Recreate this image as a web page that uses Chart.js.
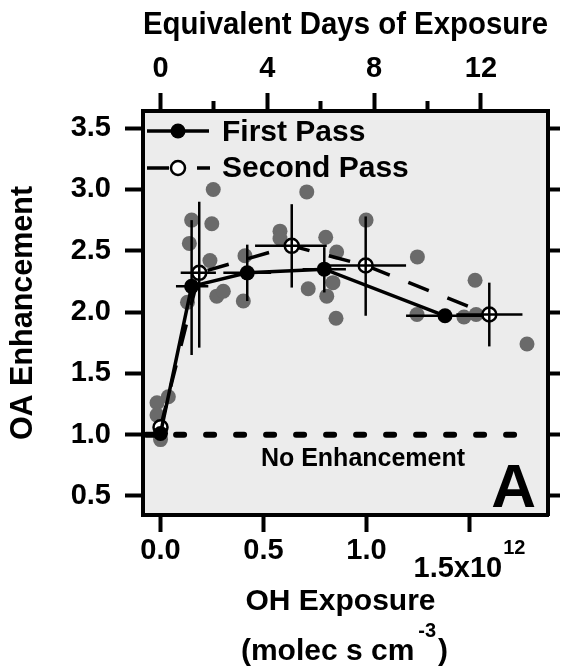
<!DOCTYPE html>
<html>
<head>
<meta charset="utf-8">
<script src="https://cdn.jsdelivr.net/npm/chart.js@4"></script>
<style>
  html, body { margin: 0; padding: 0; background: #fff; }
  #wrap { width: 566px; height: 669px; }
  canvas { display: block; }
</style>
</head>
<body>
<div id="wrap"><canvas id="c" width="566" height="669"></canvas></div>
<script>
// OH exposure values are in units of 1e12 molec s cm^-3.
// One equivalent day = 1.5e6 molec cm^-3 OH for 86400 s = 0.1296e12.
const DAY = 0.1296;

// Individual ambient measurements (gray dots)
const ambientX = [0.256, 0.710, 0.151, 0.249, 0.998, 0.140, 0.580, 0.580, 0.802, 0.855,
                  1.247, 0.240, 0.410, 1.527, 0.131, 0.273, 0.305, 0.402, 0.717, 0.807,
                  0.837, 0.852, 1.245, 1.473, 1.532, 1.779, 0.038, -0.017, -0.017, 0.000];
const ambientY = [3.00, 2.98, 2.75, 2.72, 2.75, 2.56, 2.66, 2.60, 2.61, 2.49,
                  2.45, 2.42, 2.46, 2.26, 2.08, 2.13, 2.17, 2.09, 2.19, 2.13,
                  2.24, 1.95, 1.98, 1.96, 1.98, 1.74, 1.31, 1.26, 1.16, 0.96];

// First pass binned averages with ranges
const firstX   = [0.000, 0.151, 0.421, 0.795, 1.381];
const firstY   = [1.01, 2.21, 2.32, 2.35, 1.97];
const firstYLo = [null, 1.65, 2.09, 2.16, null];
const firstYHi = [null, 2.75, 2.55, 2.53, null];
const firstXLo = [null, 0.075, 0.305, 0.690, 1.192];
const firstXHi = [null, 0.232, 0.537, 0.900, 1.570];

// Second pass binned averages with ranges
const secondX   = [0.000, 0.188, 0.637, 0.996, 1.596];
const secondY   = [1.06, 2.32, 2.54, 2.38, 1.98];
const secondYLo = [null, 1.71, 2.20, 1.97, 1.72];
const secondYHi = [null, 2.90, 2.88, 2.78, 2.24];
const secondXLo = [null, 0.098, 0.459, 0.807, 1.436];
const secondXHi = [null, 0.269, 0.807, 1.192, 1.757];

// Reference line
const noEnhX = [-0.07, 1.75];
const noEnhY = 1.0;

// Ticks
const bottomTicks = [0, 0.5, 1.0, 1.5];
const dayTicks = [0, 4, 8, 12];
const dayMinorTicks = [2, 6, 10];
const yTicks = [0.5, 1.0, 1.5, 2.0, 2.5, 3.0, 3.5];

const X_MIN = -0.085, X_MAX = 1.881;
const Y_MIN = 0.345, Y_MAX = 3.64;

const FAM = "'Liberation Sans', Arial, sans-serif";
const font = (size) => ({ family: FAM, size: size, weight: 'bold' });

function setTicks(values) {
  return (scale) => { scale.ticks = values.map(v => ({ value: v })); };
}
function fixSize(size) {
  return (scale) => { if (scale.isHorizontal()) scale.height = size; else scale.width = size; };
}
const border = { display: true, color: '#000', width: 4 };
function grid(len) {
  return { display: true, drawOnChartArea: false, drawTicks: true, tickColor: '#000', tickWidth: 4, tickLength: len };
}

const plotBackground = {
  id: 'plotBackground',
  beforeDraw(chart) {
    const { ctx, chartArea: a } = chart;
    ctx.save();
    ctx.fillStyle = '#ececec';
    ctx.fillRect(a.left, a.top, a.right - a.left, a.bottom - a.top);
    ctx.restore();
  }
};

function drawBars(ctx, xs, ys, xlo, xhi, ylo, yhi, sx, sy) {
  for (let i = 0; i < xs.length; i++) {
    const px = sx.getPixelForValue(xs[i]);
    const py = sy.getPixelForValue(ys[i]);
    if (ylo[i] !== null) {
      ctx.beginPath();
      ctx.moveTo(px, sy.getPixelForValue(ylo[i]));
      ctx.lineTo(px, sy.getPixelForValue(yhi[i]));
      ctx.stroke();
    }
    if (xlo[i] !== null) {
      ctx.beginPath();
      ctx.moveTo(sx.getPixelForValue(xlo[i]), py);
      ctx.lineTo(sx.getPixelForValue(xhi[i]), py);
      ctx.stroke();
    }
  }
}

const errorBars = {
  id: 'errorBars',
  afterDatasetsDraw(chart) {
    const { ctx } = chart;
    const sx = chart.scales.x, sy = chart.scales.y;
    ctx.save();
    ctx.strokeStyle = '#000';
    ctx.lineWidth = 2.5;
    drawBars(ctx, firstX, firstY, firstXLo, firstXHi, firstYLo, firstYHi, sx, sy);
    drawBars(ctx, secondX, secondY, secondXLo, secondXHi, secondYLo, secondYHi, sx, sy);
    ctx.restore();
  }
};

const annotations = {
  id: 'annotations',
  afterDraw(chart) {
    const { ctx, chartArea: a } = chart;
    const sx = chart.scales.x;
    ctx.save();
    ctx.fillStyle = '#000';
    ctx.strokeStyle = '#000';

    // legend
    ctx.lineWidth = 3.5;
    ctx.beginPath(); ctx.moveTo(a.left + 4, a.top + 20); ctx.lineTo(a.left + 66, a.top + 20); ctx.stroke();
    ctx.beginPath(); ctx.arc(a.left + 35, a.top + 20, 7.5, 0, Math.PI * 2); ctx.fill();
    ctx.beginPath(); ctx.moveTo(a.left + 4, a.top + 57); ctx.lineTo(a.left + 26, a.top + 57); ctx.stroke();
    ctx.beginPath(); ctx.moveTo(a.left + 54, a.top + 57); ctx.lineTo(a.left + 67, a.top + 57); ctx.stroke();
    ctx.beginPath(); ctx.arc(a.left + 35, a.top + 57, 7, 0, Math.PI * 2);
    ctx.fillStyle = '#fff'; ctx.fill();
    ctx.lineWidth = 2.5; ctx.stroke();
    ctx.fillStyle = '#000';
    ctx.font = `bold 30px ${FAM}`;
    ctx.textAlign = 'left';
    ctx.textBaseline = 'alphabetic';
    ctx.fillText('First Pass', a.left + 79, a.top + 30);
    ctx.fillText('Second Pass', a.left + 79, a.top + 66);

    // reference line label and panel letter
    ctx.font = `bold 25px ${FAM}`;
    ctx.textAlign = 'center';
    ctx.fillText('No Enhancement', 363, a.bottom - 49);
    ctx.font = `bold 62px ${FAM}`;
    ctx.textAlign = 'right';
    ctx.fillText('A', a.right - 12, a.bottom - 8);

    // last bottom tick label with exponent
    const p15 = sx.getPixelForValue(1.5);
    ctx.font = `bold 29px ${FAM}`;
    const wMain = ctx.measureText('1.5x10').width;
    ctx.font = `bold 20px ${FAM}`;
    const wExp = ctx.measureText('12').width;
    const x0 = p15 - (wMain + wExp + 1) / 2;
    ctx.textAlign = 'left';
    ctx.font = `bold 29px ${FAM}`;
    ctx.fillText('1.5x10', x0, a.bottom + 62);
    ctx.font = `bold 20px ${FAM}`;
    ctx.fillText('12', x0 + wMain + 1, a.bottom + 39);

    // bottom axis title
    const cx = (a.left + a.right) / 2;
    ctx.font = `bold 30px ${FAM}`;
    ctx.textAlign = 'center';
    ctx.fillText('OH Exposure', cx - 5, 610);
    ctx.textAlign = 'left';
    const w1 = ctx.measureText('(molec s cm').width;
    const w3 = ctx.measureText(')').width;
    ctx.font = `bold 20px ${FAM}`;
    const w2 = ctx.measureText('-3').width;
    const total = w1 + 4 + w2 + 2 + w3;
    let x = cx - 1 - total / 2;
    ctx.font = `bold 30px ${FAM}`;
    ctx.fillText('(molec s cm', x, 660);
    x += w1 + 4;
    ctx.font = `bold 20px ${FAM}`;
    ctx.fillText('-3', x, 637);
    x += w2 + 2;
    ctx.font = `bold 30px ${FAM}`;
    ctx.fillText(')', x, 660);
    ctx.restore();
  }
};

new Chart(document.getElementById('c'), {
  type: 'scatter',
  data: {
    datasets: [
      {
        label: 'Ambient',
        data: ambientX.map((x, i) => ({ x: x, y: ambientY[i] })),
        pointRadius: 7.5,
        pointBackgroundColor: '#6a6a6a',
        pointBorderWidth: 0,
        order: 10
      },
      {
        label: 'No Enhancement',
        data: noEnhX.map(x => ({ x: x, y: noEnhY })),
        showLine: true,
        borderColor: '#000',
        borderWidth: 6,
        borderDash: [8, 22],
        borderCapStyle: 'round',
        pointRadius: 0,
        order: 5
      },
      {
        label: 'Second Pass',
        data: secondX.map((x, i) => ({ x: x, y: secondY[i] })),
        showLine: true,
        borderColor: '#000',
        borderWidth: 3.5,
        borderDash: [22, 20],
        pointRadius: 7,
        pointBackgroundColor: '#fff',
        pointBorderColor: '#000',
        pointBorderWidth: 2.5,
        order: 2
      },
      {
        label: 'First Pass',
        data: firstX.map((x, i) => ({ x: x, y: firstY[i] })),
        showLine: true,
        borderColor: '#000',
        borderWidth: 3.5,
        pointRadius: 7.5,
        pointBackgroundColor: '#000',
        pointBorderColor: '#000',
        pointBorderWidth: 0,
        order: 1
      }
    ]
  },
  options: {
    responsive: false,
    devicePixelRatio: 1,
    animation: false,
    layout: { padding: 0 },
    plugins: { legend: { display: false }, tooltip: { enabled: false } },
    scales: {
      x: {
        type: 'linear', position: 'bottom', min: X_MIN, max: X_MAX,
        afterBuildTicks: setTicks(bottomTicks),
        afterFit: fixSize(154),
        border: border, grid: grid(17),
        ticks: {
          font: font(29), color: '#000', padding: 2, maxRotation: 0, autoSkip: false,
          callback: (v) => (v === 1.5 ? '' : v.toFixed(1))
        }
      },
      xDays: {
        type: 'linear', position: 'top', weight: 1,
        min: X_MIN / DAY, max: X_MAX / DAY,
        afterBuildTicks: setTicks(dayTicks),
        afterFit: fixSize(111),
        border: border, grid: grid(18),
        ticks: { font: font(29), color: '#000', padding: 7, maxRotation: 0, autoSkip: false,
                 callback: (v) => String(v) },
        title: { display: true, text: 'Equivalent Days of Exposure', color: '#000', font: font(31),
                 padding: { top: 7, bottom: 0 } }
      },
      xDaysMinor: {
        type: 'linear', position: 'top', weight: 0,
        min: X_MIN / DAY, max: X_MAX / DAY,
        afterBuildTicks: setTicks(dayMinorTicks),
        afterFit: fixSize(0),
        border: { display: false }, grid: grid(10),
        ticks: { display: false }
      },
      y: {
        type: 'linear', position: 'left', min: Y_MIN, max: Y_MAX,
        afterBuildTicks: setTicks(yTicks),
        afterFit: fixSize(143),
        border: border, grid: grid(18),
        ticks: { font: font(29), color: '#000', padding: 14, autoSkip: false,
                 callback: (v) => v.toFixed(1) },
        title: { display: true, text: 'OA Enhancement', color: '#000', font: font(30.5),
                 padding: { top: 5, bottom: 0 } }
      },
      yRight: {
        type: 'linear', position: 'right', min: Y_MIN, max: Y_MAX,
        afterBuildTicks: setTicks(yTicks),
        afterFit: fixSize(18),
        border: border, grid: grid(12),
        ticks: { display: false }
      }
    }
  },
  plugins: [plotBackground, errorBars, annotations]
});
</script>
</body>
</html>
